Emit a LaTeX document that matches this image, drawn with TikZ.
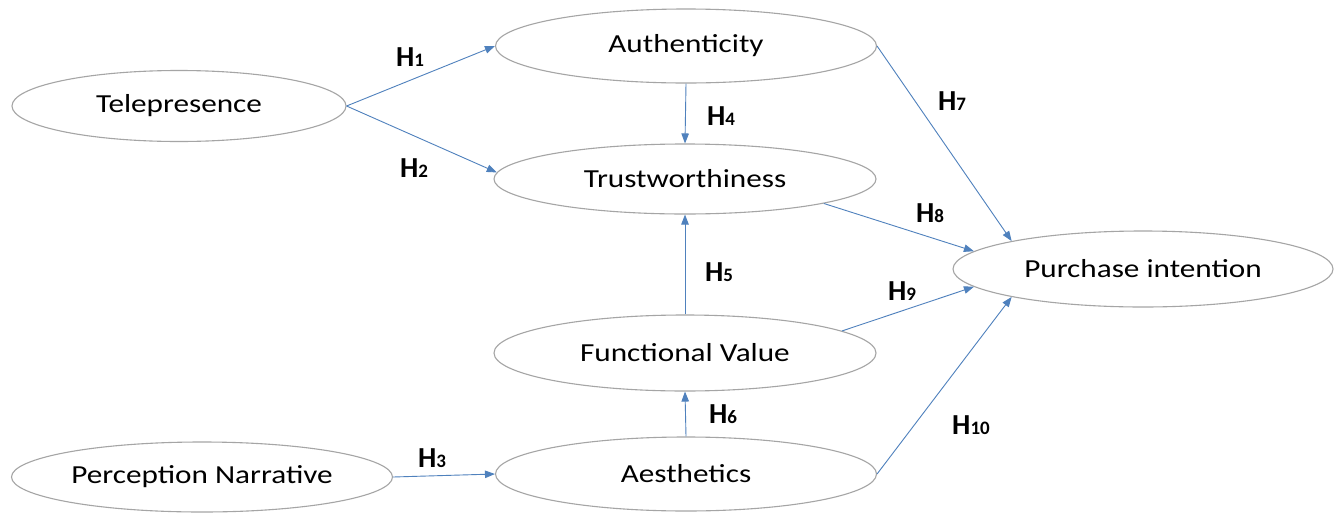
\documentclass[tikz,border=0pt]{standalone}
\usepackage{fontspec}
\setmainfont{Carlito}
\newfontfamily\ellfont[FakeStretch=1.2]{Carlito}
\usetikzlibrary{shapes.geometric,arrows.meta}
\definecolor{ellgray}{RGB}{165,165,165}
\definecolor{arrblue}{RGB}{79,129,189}
\begin{document}
\begin{tikzpicture}[x=1pt,y=-1pt,
  ell/.style={ellipse,draw=ellgray,line width=1.1pt,fill=white,inner sep=0pt,
    font=\ellfont\fontsize{26}{26}\selectfont,text=black},
  arr/.style={draw=arrblue,line width=0.9pt,-{Triangle[length=10pt,width=7.5pt]}},
  hlab/.style={font=\bfseries\fontsize{29}{29}\selectfont,text=black,inner sep=0pt}]
\useasboundingbox (0,0) rectangle (1334,512);
\fill[white] (0,0) rectangle (1334,512);
\newcommand{\hl}[1]{H{\fontsize{19}{19}\selectfont #1}}
% nodes
\node[ell,minimum width=334pt,minimum height=71pt] (tele) at (179,106) {Telepresence};
\node[ell,minimum width=381pt,minimum height=74pt] (auth) at (686,46) {Authenticity};
\node[ell,minimum width=382pt,minimum height=70pt] (trust) at (685,179) {Trustworthiness};
\node[ell,minimum width=380pt,minimum height=76pt] (pur) at (1143,269) {Purchase intention};
\node[ell,minimum width=382pt,minimum height=76pt] (func) at (685,353) {Functional Value};
\node[ell,minimum width=381pt,minimum height=70pt] (pn) at (202,477) {Perception Narrative};
\node[ell,minimum width=381pt,minimum height=74pt] (aest) at (686,474) {Aesthetics};
% connectors
\draw[arr] (tele.east) -- (auth.west);
\draw[arr] (tele.east) -- (trust.178);
\draw[arr] (pn.east) -- (aest.west);
\draw[arr] (auth.south) -- (trust.north);
\draw[arr] (func.north) -- (trust.south);
\draw[arr] (aest.north) -- (func.south);
\draw[arr] (auth.east) -- (pur.168);
\draw[arr] (trust.-10) -- (pur.174);
\draw[arr] (func.8) -- (pur.186);
\draw[arr] (aest.east) -- (pur.192);
% labels
\node[hlab] (h1) at (410,57) {\hl{1}};
\node[hlab] (h2) at (414,168) {\hl{2}};
\node[hlab] (h3) at (432,458) {\hl{3}};
\node[hlab] (h4) at (721,116) {\hl{4}};
\node[hlab] (h5) at (719,272) {\hl{5}};
\node[hlab] (h6) at (723,414) {\hl{6}};
\node[hlab] (h7) at (952,101) {\hl{7}};
\node[hlab] (h8) at (930,213) {\hl{8}};
\node[hlab] (h9) at (902,291) {\hl{9}};
\node[hlab] (h10) at (971,425) {\hl{10}};
\end{tikzpicture}
\end{document}
